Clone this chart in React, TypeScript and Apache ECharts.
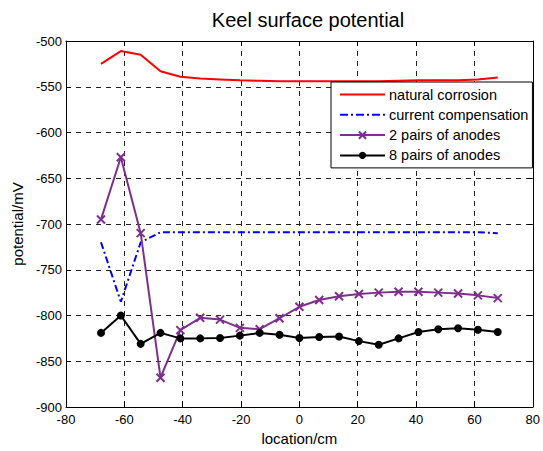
import React, { useEffect, useRef } from "react";
import * as echarts from "echarts";

const locations = [-68, -61.2, -54.4, -47.6, -40.8, -34, -27.2, -20.4, -13.6, -6.8, 0, 6.8, 13.6, 20.4, 27.2, 34, 40.8, 47.6, 54.4, 61.2, 68];
const naturalCorrosion = [-525, -511, -515, -533, -539, -541, -542, -543, -543.5, -544, -544, -544, -544, -544, -544, -543.5, -543, -543, -543, -542, -540];
const currentCompensation = [-720, -785, -720, -709, -709, -709, -709, -709, -709, -709, -709, -709, -709, -709, -709, -709, -709, -709, -709, -709, -710];
const twoPairs = [-695, -627, -710, -868, -816, -802.5, -804.5, -813.5, -815, -803, -790.5, -783, -779, -776.5, -775, -774, -774, -775, -776, -778, -781];
const eightPairs = [-819, -800, -831, -819, -825, -825, -824.5, -822, -819, -821, -824.5, -823.5, -823, -828, -832, -825, -818, -815, -814, -815.5, -818];

const seriesNames = ["natural corrosion", "current compensation", "2 pairs of anodes", "8 pairs of anodes"];
const xTicks = { min: -80, max: 80, interval: 20 };
const yTicks = { min: -900, max: -500, interval: 50 };

const FONT = "Liberation Sans, Arial, Helvetica, sans-serif";
const SOLID_ICON = "path://M0,0h45v2h-45z";
const DASHDOT_ICON = "path://M0,0h8v2h-8zM11,0h2v2h-2zM16,0h8v2h-8zM27,0h2v2h-2zM32,0h8v2h-8zM43,0h2v2h-2z";

function pairs(ys: number[]) {
  return ys.map((y, i) => [locations[i], y]);
}

export default function App() {
  const ref = useRef<HTMLDivElement>(null);
  useEffect(() => {
    if (!ref.current) return;
    const chart = echarts.init(ref.current, null, { renderer: "svg" });
    const splitLine = { show: true, lineStyle: { color: "#222", type: [5, 5], width: 1 } };
    chart.setOption({
      animation: false,
      backgroundColor: "#fff",
      textStyle: { fontFamily: FONT },
      title: {
        text: "Keel surface potential",
        left: 303,
        top: 5,
        textAlign: "center",
        textStyle: { fontFamily: FONT, fontSize: 20, fontWeight: "normal", color: "#000" },
      },
      grid: { left: 66, right: 9, top: 41, bottom: 42, containLabel: false },
      legend: {
        orient: "vertical",
        left: 331,
        top: 82,
        width: 204,
        backgroundColor: "#fff",
        borderColor: "#000",
        borderWidth: 1,
        borderRadius: 0,
        padding: [5, 4, 5, 8],
        itemWidth: 45,
        itemHeight: 9,
        itemGap: 5.3,
        textStyle: { fontFamily: FONT, fontSize: 14.5, color: "#000", padding: [0, 0, 0, -1] },
        data: [
          { name: seriesNames[0], icon: SOLID_ICON },
          { name: seriesNames[1], icon: DASHDOT_ICON },
          { name: seriesNames[2] },
          { name: seriesNames[3] },
        ],
      },
      xAxis: [
        {
          type: "value",
          min: xTicks.min,
          max: xTicks.max,
          interval: xTicks.interval,
          name: "location/cm",
          nameLocation: "middle",
          nameGap: 24,
          nameTextStyle: { fontFamily: FONT, fontSize: 15, color: "#000" },
          axisLine: { onZero: false, lineStyle: { color: "#000", width: 1 } },
          axisTick: { inside: true, length: 5, lineStyle: { color: "#000" } },
          axisLabel: { color: "#000", fontSize: 13, margin: 6, fontFamily: FONT },
          splitLine,
        },
        {
          type: "value",
          position: "top",
          min: xTicks.min,
          max: xTicks.max,
          interval: xTicks.interval,
          axisLine: { onZero: false, lineStyle: { color: "#000", width: 1 } },
          axisTick: { inside: true, length: 5, lineStyle: { color: "#000" } },
          axisLabel: { show: false },
          splitLine: { show: false },
        },
      ],
      yAxis: [
        {
          type: "value",
          min: yTicks.min,
          max: yTicks.max,
          interval: yTicks.interval,
          name: "potential/mV",
          nameLocation: "middle",
          nameGap: 41,
          nameTextStyle: { fontFamily: FONT, fontSize: 15, color: "#000" },
          axisLine: { onZero: false, lineStyle: { color: "#000", width: 1 } },
          axisTick: { inside: true, length: 5, lineStyle: { color: "#000" } },
          axisLabel: { color: "#000", fontSize: 13, margin: 4, fontFamily: FONT },
          splitLine,
        },
        {
          type: "value",
          position: "right",
          min: yTicks.min,
          max: yTicks.max,
          interval: yTicks.interval,
          axisLine: { onZero: false, lineStyle: { color: "#000", width: 1 } },
          axisTick: { inside: true, length: 5, lineStyle: { color: "#000" } },
          axisLabel: { show: false },
          splitLine: { show: false },
        },
      ],
      series: [
        {
          name: seriesNames[0],
          type: "line",
          data: pairs(naturalCorrosion),
          symbol: "none",
          lineStyle: { color: "#ff0000", width: 2 },
          itemStyle: { color: "#ff0000" },
        },
        {
          name: seriesNames[1],
          type: "line",
          data: pairs(currentCompensation),
          symbol: "none",
          lineStyle: { color: "#0000ff", width: 2, type: [7, 3, 2, 3] },
          itemStyle: { color: "#0000ff" },
        },
        {
          name: seriesNames[2],
          type: "line",
          data: pairs(twoPairs),
          symbol: "path://M0,0L10,10M10,0L0,10",
          symbolSize: 8,
          lineStyle: { color: "#7e2f8e", width: 2 },
          itemStyle: { color: "#7e2f8e", borderColor: "#7e2f8e", borderWidth: 2 },
        },
        {
          name: seriesNames[3],
          type: "line",
          data: pairs(eightPairs),
          symbol: "circle",
          symbolSize: 8,
          lineStyle: { color: "#000", width: 2 },
          itemStyle: { color: "#000" },
        },
      ],
    });
    return () => chart.dispose();
  }, []);
  return <div ref={ref} style={{ width: 543, height: 451, position: "absolute", left: 0, top: 0 }} />;
}
